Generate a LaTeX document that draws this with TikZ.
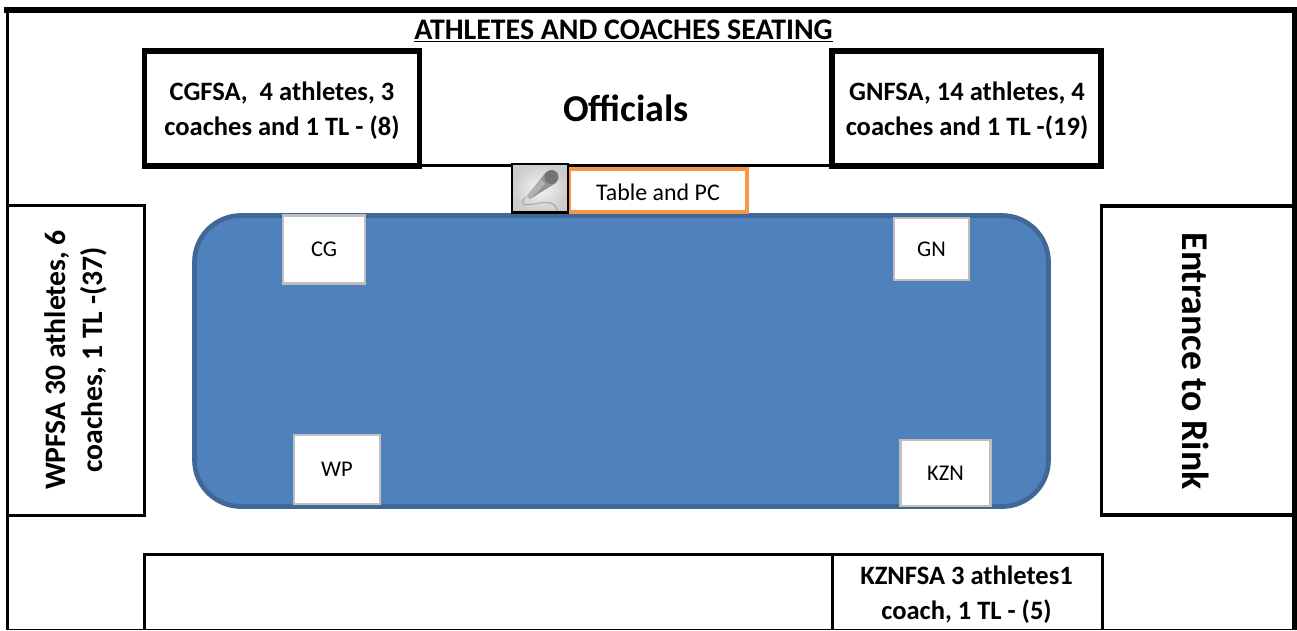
\documentclass[tikz,border=0pt]{standalone}
\usepackage{fontspec}
\setmainfont{Carlito}
\definecolor{rinkblue}{HTML}{4F81BD}
\definecolor{rinkedge}{HTML}{3F6797}
\definecolor{tableorange}{HTML}{F79646}
\definecolor{flagedge}{HTML}{BFBFBF}
\tikzset{
  seat/.style={draw, line width=3.1pt},
  label/.style={align=center, font=\fontsize{15.1}{19.8}\selectfont\bfseries},
  flag/.style={draw=flagedge, fill=white, line width=1.4pt, font=\fontsize{12.8}{14}\selectfont},
}
\begin{document}
\begin{tikzpicture}[x=0.02cm, y=-0.02cm]
\useasboundingbox (0, 0) rectangle (1297, 630);
% outer frame
\draw [line width=3.4pt] (4, 10) -- (1297, 10);
\draw [line width=1.7pt] (7.5, 10) -- (7.5, 630);
\draw [line width=2.8pt] (1294.5, 10) -- (1294.5, 630);
\draw [line width=0.6pt] (6, 629.6) -- (1297, 629.6);
% side and bottom seating
\draw [line width=1.9pt] (7, 205.5) -- (144.5, 205.5) -- (144.5, 515.5) -- (7, 515.5);
\draw [line width=1.9pt] (1294, 206) -- (1101.5, 206) -- (1101.5, 515) -- (1294, 515);
\draw [line width=1.7pt] (144.5, 630) -- (144.5, 553) (144.5, 554.5) -- (1102, 554.5) -- (1102, 630);
\draw [line width=1.7pt] (832.5, 554.5) -- (832.5, 630);
\draw [line width=1.7pt] (420, 165.7) -- (832, 165.7);
% rink
\draw [fill=rinkblue, draw=rinkedge, line width=2.7pt, rounded corners=0.93cm] (194.5, 215.5) rectangle (1048.5, 506.5);
% stands
\node[seat, minimum width=5.51cm, minimum height=2.3cm] (cgbox) at (282, 108.5) {};
\node[seat, minimum width=5.38cm, minimum height=2.3cm] (gnbox) at (966.5, 108.5) {};
\node[label] (cgfsa) at (282, 110.5) {CGFSA,\ \ 4 athletes, 3\\coaches and 1 TL - (8)};
\node[label] (gnfsa) at (967, 110.5) {GNFSA, 14 athletes, 4\\coaches and 1 TL -(19)};
\node[label, font=\fontsize{21.6}{24}\selectfont\bfseries] (officials) at (626, 108) {Officials};
\node[label, inner xsep=0pt, inner ysep=1pt, font=\fontsize{17}{19}\selectfont\bfseries] (title) at (623.5, 29.5) {ATHLETES AND COACHES SEATING};
\draw [line width=1.1pt] (title.south west) -- (title.south east);
\node[label, rotate=90, font=\fontsize{16.9}{21}\selectfont\bfseries] (wpfsa) at (76, 360) {WPFSA 30 athletes, 6\\coaches, 1 TL -(37)};
\node[label, rotate=-90, font=\fontsize{21.5}{24}\selectfont\bfseries] (entrance) at (1196, 361) {Entrance to Rink};
\node[label] (kznfsa) at (966.5, 594.5) {KZNFSA 3 athletes1\\coach, 1 TL - (5)};
% table and microphone
\node[draw=tableorange, fill=white, line width=2.6pt, minimum width=3.56cm, minimum height=0.86cm, text height=11.5pt, text depth=0pt, font=\fontsize{13.6}{15}\selectfont] (table) at (658, 190.5) {Table and PC};
\draw [line width=1.2pt, inner color=white!92!gray, outer color=gray!40!white] (512, 164) rectangle (568, 212.5);
\draw [gray!70, line width=0.6pt] (526, 197) .. controls (519, 203) and (522, 206) .. (534, 204) .. controls (548, 201) and (556, 202) .. (557, 211);
\fill [gray!85] (527, 196) -- (546, 172) -- (556, 183) -- (530, 199) -- cycle;
\fill [gray!60] (527, 196) -- (541, 179) -- (545, 184) -- (530, 199) -- cycle;
\fill [gray!90!black] (551.5, 177) circle [radius=7];
% corner flags
\node[flag, minimum width=1.64cm, minimum height=1.36cm] (cg) at (324, 249.5) {CG};
\node[flag, minimum width=1.5cm, minimum height=1.24cm] (gn) at (931.5, 249) {GN};
\node[flag, minimum width=1.72cm, minimum height=1.38cm] (wp) at (337, 469.5) {WP};
\node[flag, minimum width=1.8cm, minimum height=1.32cm] (kzn) at (945.5, 473) {KZN};
\end{tikzpicture}
\end{document}
